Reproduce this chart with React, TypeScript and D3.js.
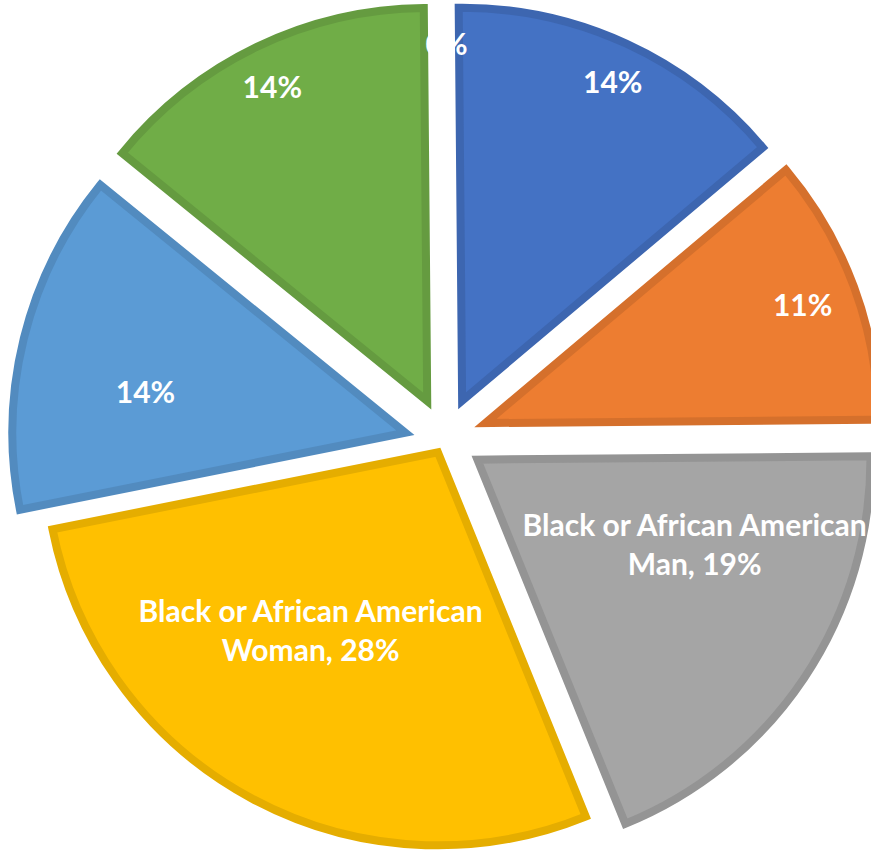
import React from 'react';
import * as d3 from 'd3';

// ---- data ----
const categories = [
  'Group 1',
  'Group 2',
  'Black or African American Man',
  'Black or African American Woman',
  'Group 5',
  'Group 6',
  'Group 7',
];
const values = [14, 11, 19, 28, 14, 14, 0];
const showCategoryName = [false, false, true, true, false, false, false];

// ---- style ----
const colors = ['#4472C4', '#ED7D31', '#A5A5A5', '#FFC000', '#5B9BD5', '#70AD47', '#264478'];
const W = 871;
const H = 852;
const CX = 445;
const CY = 438;
const R = 393;
const explode = [41, 43, 39, 16, 40, 41, 41];
const explodeTurn = [0, 0, 0, -2, -6.3, 0, 0];
const labelFrac = [0.9, 0.862, 0.594, 0.558, 0.67, 0.893, 0.9];
const labelTurn = [0.5, -0.2, -12.2, 7.2, -4.7, -0.5, 0.8];
const FONT = 'Lato, "Open Sans", sans-serif';
const FONT_SIZE = 30;
const LINE_H = 39;

const rad = (deg: number) => (deg * Math.PI) / 180;
const polar = (a: number, r: number): [number, number] => [r * Math.sin(a), -r * Math.cos(a)];

export default function App() {
  const rotation = rad(-0.5);
  const pie = d3
    .pie<number>()
    .sort(null)
    .value((v) => v)
    .startAngle(rotation)
    .endAngle(2 * Math.PI + rotation);
  const arcs = pie(values);
  const arcGen = d3.arc<d3.PieArcDatum<number>>().innerRadius(0).outerRadius(R);
  const total = d3.sum(values);

  return (
    <svg
      width={W}
      height={H}
      style={{ position: 'absolute', left: 0, top: 0, background: '#fff' }}
    >
      <g transform={`translate(${CX},${CY})`}>
        {arcs.map((a, i) => {
          if (a.value === 0) return null;
          const mid = (a.startAngle + a.endAngle) / 2 + rad(explodeTurn[i]);
          const [ox, oy] = polar(mid, explode[i]);
          const fill = colors[i];
          const stroke = d3.color(fill)!.darker(0.3).formatHex();
          return (
            <path
              key={i}
              d={arcGen(a) || ''}
              transform={`translate(${ox},${oy})`}
              fill={fill}
              stroke={stroke}
              strokeWidth={8}
              strokeLinejoin="miter"
              strokeMiterlimit={10}
            />
          );
        })}
        {arcs.map((a, i) => {
          const mid = (a.startAngle + a.endAngle) / 2;
          const [ox, oy] = polar(mid + rad(explodeTurn[i]), explode[i]);
          const [lx, ly] = polar(mid + rad(labelTurn[i]), R * labelFrac[i]);
          const pct = `${Math.round((a.value / total) * 100)}%`;
          const x = ox + lx;
          const y = oy + ly;
          if (showCategoryName[i]) {
            const words = categories[i].split(' ');
            const line2Word = words.pop();
            const line1 = words.join(' ');
            const line2 = `${line2Word}, ${pct}`;
            return (
              <text
                key={'l' + i}
                x={x}
                y={y}
                textAnchor="middle"
                fill="#fff"
                fontFamily={FONT}
                fontWeight="bold"
                fontSize={FONT_SIZE}
              >
                <tspan x={x} dy={-LINE_H / 2 + FONT_SIZE * 0.35}>
                  {line1}
                </tspan>
                <tspan x={x} dy={LINE_H}>
                  {line2}
                </tspan>
              </text>
            );
          }
          return (
            <text
              key={'l' + i}
              x={x}
              y={y}
              textAnchor="middle"
              dominantBaseline="central"
              fill="#fff"
              fontFamily={FONT}
              fontWeight="bold"
              fontSize={FONT_SIZE}
            >
              {pct}
            </text>
          );
        })}
      </g>
    </svg>
  );
}
